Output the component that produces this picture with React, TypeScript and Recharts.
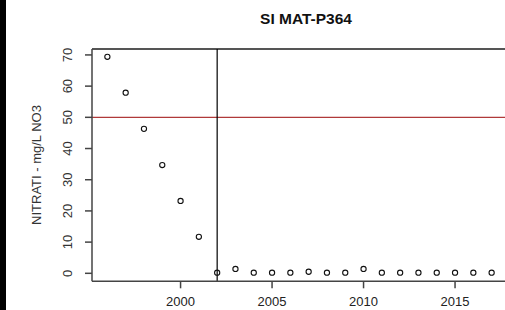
import React from "react";
import {
  ScatterChart,
  Scatter,
  XAxis,
  YAxis,
  ReferenceLine,
} from "recharts";

const years = [1996, 1997, 1998, 1999, 2000, 2001, 2002, 2003, 2004, 2005, 2006, 2007, 2008, 2009, 2010, 2011, 2012, 2013, 2014, 2015, 2016, 2017];
const nitrati = [69.4, 57.9, 46.3, 34.7, 23.2, 11.7, 0.2, 1.4, 0.2, 0.2, 0.2, 0.5, 0.2, 0.2, 1.4, 0.2, 0.2, 0.2, 0.2, 0.2, 0.2, 0.2];
const xTicks = [2000, 2005, 2010, 2015];
const yTicks = [0, 10, 20, 30, 40, 50, 60, 70];
const limit = 50;
const changeYear = 2002;
const title = "SI MAT-P364";
const yLabel = "NITRATI - mg/L NO3";

const data = years.map((y, i) => ({ year: y, value: nitrati[i] }));

const FONT = "'Liberation Sans', Arial, sans-serif";

const XTick = (props: any) => {
  const { x, payload } = props;
  return (
    <text x={x} y={306} textAnchor="middle" fontFamily={FONT} fontSize={13} fill="#222">
      {payload.value}
    </text>
  );
};

const YTick = (props: any) => {
  const { y, payload } = props;
  const bx = 72.5;
  return (
    <text
      x={bx}
      y={y}
      transform={`rotate(-90, ${bx}, ${y})`}
      textAnchor="middle"
      fontFamily={FONT}
      fontSize={13}
      fill="#333"
    >
      {payload.value}
    </text>
  );
};

const Dot = (props: any) => {
  const { cx, cy } = props;
  return <circle cx={cx} cy={cy} r={2.6} fill="none" stroke="#111" strokeWidth={1.1} />;
};

export default function App() {
  return (
    <div style={{ position: "absolute", left: 0, top: 0, width: 505, height: 310, background: "#fff", overflow: "hidden" }}>
      <ScatterChart width={505} height={310} margin={{ top: 49, right: 0, bottom: 0, left: 0 }}>
        <XAxis
          type="number"
          dataKey="year"
          domain={[1995.16, 2017.73]}
          ticks={xTicks}
          tick={<XTick />}
          tickSize={7}
          height={28.7}
          axisLine={{ stroke: "#444", strokeWidth: 1.5 }}
          tickLine={{ stroke: "#444", strokeWidth: 1.5 }}
          allowDataOverflow
        />
        <YAxis
          type="number"
          dataKey="value"
          domain={[-2.56, 71.9]}
          ticks={yTicks}
          tick={<YTick />}
          tickSize={7}
          width={92}
          axisLine={{ stroke: "#444", strokeWidth: 1.5 }}
          tickLine={{ stroke: "#444", strokeWidth: 1.5 }}
          allowDataOverflow
          label={(p: any) => (
            <text
              x={40.5}
              y={165}
              transform={`rotate(-90, 40.5, 165)`}
              textAnchor="middle"
              fontFamily={FONT}
              fontSize={13}
              fill="#333"
            >
              {yLabel}
            </text>
          )}
        />
        <ReferenceLine y={71.9} stroke="#555" strokeWidth={2} />
        <ReferenceLine y={limit} stroke="#b03a3a" strokeWidth={1.2} />
        <ReferenceLine x={changeYear} stroke="#000" strokeWidth={1.2} />
        <Scatter data={data} shape={<Dot />} isAnimationActive={false} />
      </ScatterChart>
      <div
        style={{
          position: "absolute",
          left: 206,
          width: 200,
          top: 10,
          textAlign: "center",
          fontFamily: FONT,
          fontWeight: "bold",
          fontSize: 15.5,
          color: "#111",
          lineHeight: "17px",
        }}
      >
        {title}
      </div>
      <div style={{ position: "absolute", left: 0, top: 0, width: 6, height: 310, background: "#000" }} />
    </div>
  );
}
